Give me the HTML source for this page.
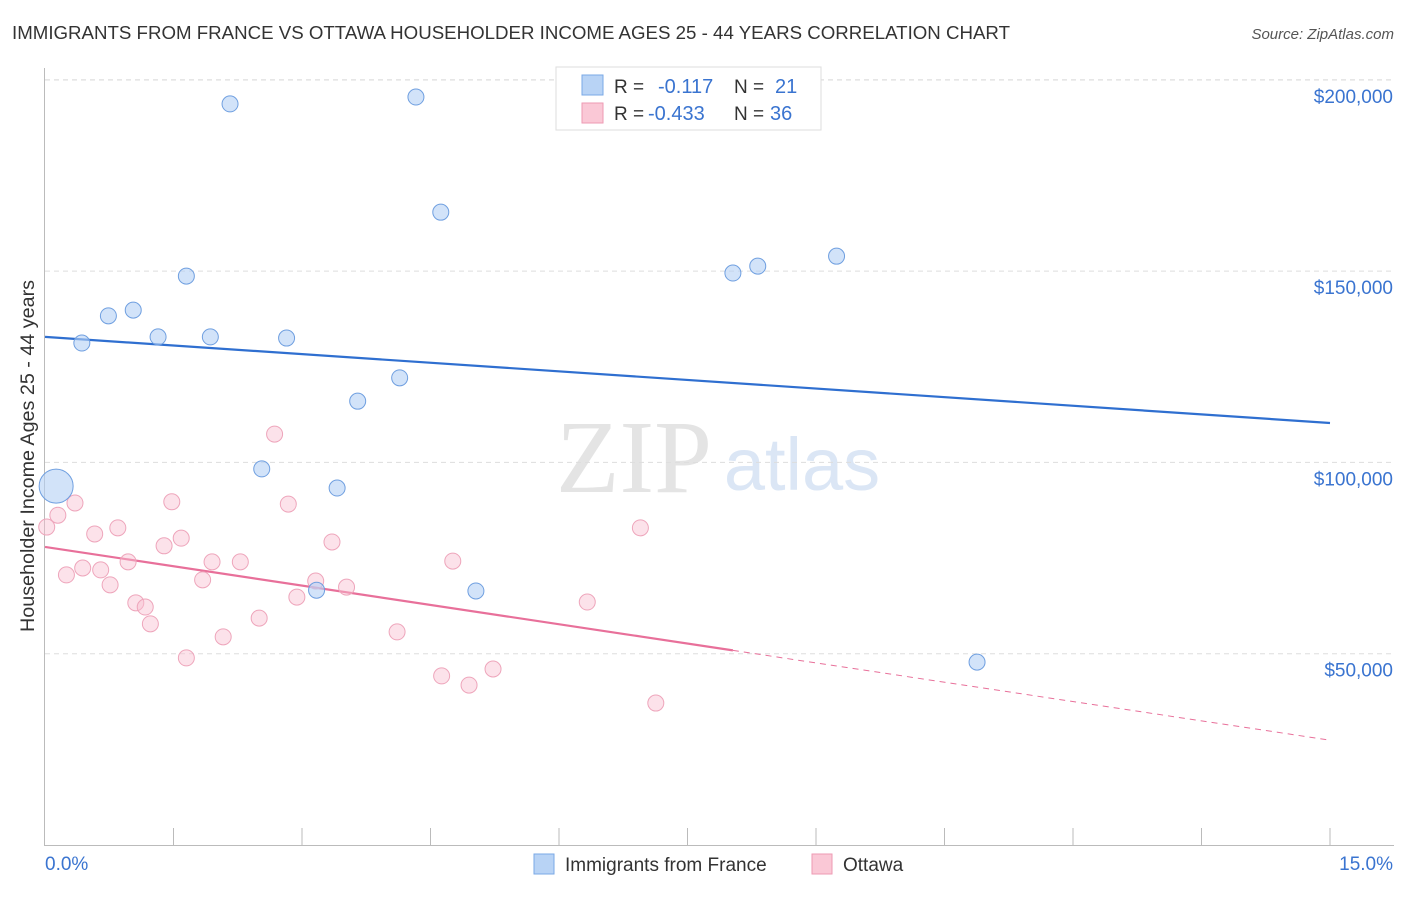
<!DOCTYPE html>
<html><head><meta charset="utf-8"><style>
body{margin:0;background:#fff;font-family:"Liberation Sans",sans-serif;}
</style></head><body>
<svg id="chart" width="1406" height="892" xmlns="http://www.w3.org/2000/svg">
<text x="12" y="39" font-size="18" fill="#333" textLength="998" lengthAdjust="spacingAndGlyphs">IMMIGRANTS FROM FRANCE VS OTTAWA HOUSEHOLDER INCOME AGES 25 - 44 YEARS CORRELATION CHART</text>
<text x="1394" y="39" font-size="15" fill="#555" font-style="italic" text-anchor="end">Source: ZipAtlas.com</text>
<text x="634" y="492" font-size="104" fill="#e4e4e4" font-family="Liberation Serif,serif" text-anchor="middle">ZIP</text>
<text x="802" y="490" font-size="74" fill="#dbe6f5" text-anchor="middle">atlas</text>
<text transform="translate(34,456) rotate(-90)" font-size="19" fill="#333" text-anchor="middle" textLength="352" lengthAdjust="spacingAndGlyphs">Householder Income Ages 25 - 44 years</text>
<g id="grid"></g><g id="axes"></g><g id="lines"></g><g id="pts"></g>
<g>
<rect x="556" y="67" width="265" height="63" fill="#fff" stroke="#ddd"/>
<rect x="582" y="75" width="21" height="20" fill="#b8d3f5" stroke="#7aa8e6"/>
<rect x="582" y="103" width="21" height="20" fill="#fac8d6" stroke="#ee9ab3"/>
<text x="614" y="93" font-size="19" fill="#333">R = </text><text x="658" y="93" font-size="20" fill="#3a74d0">-0.117</text>
<text x="734" y="93" font-size="19" fill="#333">N = </text><text x="775" y="93" font-size="20" fill="#3a74d0">21</text>
<text x="614" y="120" font-size="19" fill="#333">R = </text><text x="648" y="120" font-size="20" fill="#3a74d0">-0.433</text>
<text x="734" y="120" font-size="19" fill="#333">N = </text><text x="770" y="120" font-size="20" fill="#3a74d0">36</text>
</g>
<g>
<rect x="534" y="854" width="20" height="20" fill="#b8d3f5" stroke="#7aa8e6"/>
<text x="565" y="871" font-size="19" fill="#333">Immigrants from France</text>
<rect x="812" y="854" width="20" height="20" fill="#fac8d6" stroke="#ee9ab3"/>
<text x="843" y="871" font-size="19" fill="#333">Ottawa</text>
</g>
</svg>
<script>
const yTicks=[50000,100000,150000,200000];
const yTickLabels=["$50,000","$100,000","$150,000","$200,000"];
const xTickLabels=["0.0%","15.0%"];
const franceX=[2.16,4.33,4.62,1.65,0.74,1.03,1.32,1.93,2.82,0.43,4.14,3.65,2.53,3.41,0.13,3.17,5.03,8.03,8.32,9.24,10.88];
const franceY=[193700,195500,165400,148700,138300,139800,132800,132800,132500,131200,122100,116000,98300,93300,93800,66600,66400,149500,151300,153900,47800];
const franceR=[8,8,8,8,8,8,8,8,8,8,8,8,8,8,17,8,8,8,8,8,8];
const ottawaX=[0.02,0.15,0.35,0.25,0.44,0.58,0.65,0.76,0.85,0.97,1.06,1.17,1.23,1.39,1.48,1.59,1.65,1.84,1.95,2.08,2.28,2.50,2.68,2.84,2.94,3.16,3.35,3.52,4.11,4.63,4.76,4.95,5.23,6.33,6.95,7.13];
const ottawaY=[83100,86200,89400,70600,72400,81300,71900,68000,82900,74000,63300,62200,57800,78200,89700,80200,48900,69300,74000,54400,74000,59300,107400,89100,64800,69000,79200,67400,55700,44200,74200,41800,46000,63500,82900,37100];
const franceTrend=[132800,110300];
const ottawaTrend=[77900,27400];
const ottawaSolidEnd=8.03;
const NS="http://www.w3.org/2000/svg";
const X=v=>45+v*(1330-45)/15;
const Y=v=>845-v*(191.3/50000);
function mk(parent,tag,attrs){const e=document.createElementNS(NS,tag);for(const k in attrs)e.setAttribute(k,attrs[k]);document.getElementById(parent).appendChild(e);return e;}
yTicks.forEach((t,i)=>{
 const g=mk('grid','line',{x1:45,x2:1394,y1:Y(t),y2:Y(t),stroke:'#ddd','stroke-dasharray':'5,4'});
 
 
 const l=mk('axes','text',{x:1393,y:Y(t)+23,'font-size':19,fill:'#3a74d0','text-anchor':'end'});
 l.textContent=yTickLabels[i];
 
 
});
const gTop=mk('grid','line',{x1:45,x2:1394,y1:80,y2:80,stroke:'#ddd','stroke-dasharray':'5,4'});
mk('axes','line',{x1:44.5,x2:44.5,y1:68,y2:845,stroke:'#bbb'});
mk('axes','line',{x1:44,x2:1394,y1:845.5,y2:845.5,stroke:'#bbb'});
for(let i=1;i<=10;i++){const t=mk('axes','line',{x1:X(i*1.5),x2:X(i*1.5),y1:828,y2:845,stroke:'#bbb'});}
const xl0=mk('axes','text',{x:45,y:870,'font-size':19,fill:'#3a74d0'});xl0.textContent=xTickLabels[0];


const xl1=mk('axes','text',{x:1393,y:870,'font-size':19,fill:'#3a74d0','text-anchor':'end'});xl1.textContent=xTickLabels[1];


ottawaX.forEach((x,i)=>{const c=mk('pts','circle',{cx:X(x),cy:Y(ottawaY[i]),r:8,fill:'rgba(248,190,208,0.45)',stroke:'#eea5bb','stroke-width':1});
 
 });
franceX.forEach((x,i)=>{const c=mk('pts','circle',{cx:X(x),cy:Y(franceY[i]),r:franceR[i],fill:'rgba(180,208,245,0.6)',stroke:'#6f9fe0','stroke-width':1});
 
 });
const bt=mk('lines','line',{x1:X(0),y1:Y(franceTrend[0]),x2:X(15),y2:Y(franceTrend[1]),stroke:'#2f6fd0','stroke-width':2.2});


const oy=x=>ottawaTrend[0]+(ottawaTrend[1]-ottawaTrend[0])*x/15;
const pt=mk('lines','line',{x1:X(0),y1:Y(oy(0)),x2:X(ottawaSolidEnd),y2:Y(oy(ottawaSolidEnd)),stroke:'#e8709a','stroke-width':2.2});


const pd=mk('lines','line',{x1:X(ottawaSolidEnd),y1:Y(oy(ottawaSolidEnd)),x2:X(15),y2:Y(oy(15)),stroke:'#e8709a','stroke-width':1,'stroke-dasharray':'6,5'});


</script>
</body></html>
